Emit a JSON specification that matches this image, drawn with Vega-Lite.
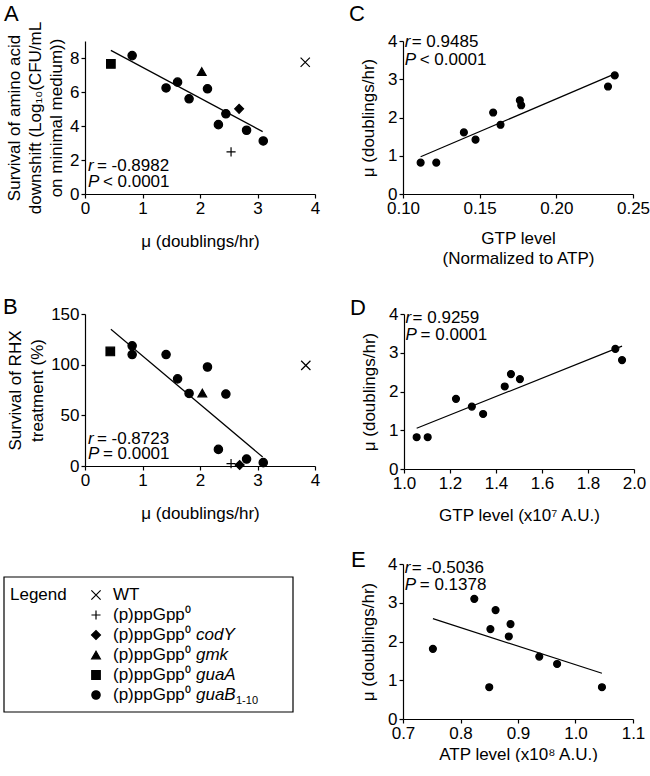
{
  "$schema": "https://vega.github.io/schema/vega-lite/v6.json",
  "padding": {"left": 3, "top": 2, "right": 0, "bottom": 0},
  "background": "white",
  "config": {
    "font": "Liberation Sans",
    "view": {"stroke": null},
    "axis": {"domainColor": "black", "tickColor": "black", "labelColor": "black", "titleColor": "black", "labelFont": "Liberation Sans", "titleFont": "Liberation Sans", "labelFontSize": 17, "titleFontSize": 17, "titleFontWeight": "normal", "grid": false, "tickSize": 4, "labelPadding": 2, "domainWidth": 1.2, "tickWidth": 1.2, "labelFlush": false, "labelOverlap": false, "tickCount": 10},
    "text": {"font": "Liberation Sans", "fontSize": 17, "color": "black"}
  },
  "datasets": {
    "A": [
      {"strain": "guaA", "mu": 0.45, "surv": 7.65},
      {"strain": "guaB", "mu": 0.82, "surv": 8.14},
      {"strain": "guaB", "mu": 1.41, "surv": 6.24},
      {"strain": "guaB", "mu": 1.61, "surv": 6.58},
      {"strain": "guaB", "mu": 1.81, "surv": 5.6},
      {"strain": "guaB", "mu": 2.13, "surv": 6.19},
      {"strain": "guaB", "mu": 2.45, "surv": 4.72},
      {"strain": "guaB", "mu": 2.32, "surv": 4.08},
      {"strain": "guaB", "mu": 2.81, "surv": 3.75},
      {"strain": "guaB", "mu": 3.1, "surv": 3.12},
      {"strain": "gmk", "mu": 2.03, "surv": 7.2},
      {"strain": "codY", "mu": 2.68, "surv": 5.01},
      {"strain": "ppGpp0", "mu": 2.54, "surv": 2.48},
      {"strain": "WT", "mu": 3.83, "surv": 7.75}
    ],
    "B": [
      {"strain": "guaA", "mu": 0.44, "surv": 113},
      {"strain": "guaB", "mu": 0.82, "surv": 118.6},
      {"strain": "guaB", "mu": 0.82, "surv": 110},
      {"strain": "guaB", "mu": 1.41, "surv": 110},
      {"strain": "guaB", "mu": 1.61, "surv": 86},
      {"strain": "guaB", "mu": 2.13, "surv": 97.7},
      {"strain": "guaB", "mu": 1.81, "surv": 71.6},
      {"strain": "guaB", "mu": 2.45, "surv": 71},
      {"strain": "guaB", "mu": 2.32, "surv": 16.4},
      {"strain": "guaB", "mu": 2.81, "surv": 6.9},
      {"strain": "guaB", "mu": 3.1, "surv": 3.3},
      {"strain": "gmk", "mu": 2.04, "surv": 72},
      {"strain": "ppGpp0", "mu": 2.54, "surv": 2.3},
      {"strain": "codY", "mu": 2.69, "surv": 1},
      {"strain": "WT", "mu": 3.84, "surv": 99.3}
    ],
    "C": [
      {"gtp": 0.1115, "mu": 0.82}, {"gtp": 0.1217, "mu": 0.82}, {"gtp": 0.1397, "mu": 1.61}, {"gtp": 0.1473, "mu": 1.42}, {"gtp": 0.1588, "mu": 2.13},
      {"gtp": 0.1636, "mu": 1.81}, {"gtp": 0.1762, "mu": 2.45}, {"gtp": 0.1771, "mu": 2.32}, {"gtp": 0.2337, "mu": 2.81}, {"gtp": 0.2381, "mu": 3.1}
    ],
    "D": [
      {"gtp": 1.055, "mu": 0.82}, {"gtp": 1.103, "mu": 0.82}, {"gtp": 1.226, "mu": 1.81}, {"gtp": 1.295, "mu": 1.61}, {"gtp": 1.344, "mu": 1.42},
      {"gtp": 1.438, "mu": 2.13}, {"gtp": 1.465, "mu": 2.45}, {"gtp": 1.504, "mu": 2.32}, {"gtp": 1.919, "mu": 3.1}, {"gtp": 1.948, "mu": 2.81}
    ],
    "E": [
      {"atp": 0.752, "mu": 1.81}, {"atp": 0.824, "mu": 3.1}, {"atp": 0.861, "mu": 2.81}, {"atp": 0.852, "mu": 2.32}, {"atp": 0.85, "mu": 0.82},
      {"atp": 0.887, "mu": 2.45}, {"atp": 0.884, "mu": 2.13}, {"atp": 0.937, "mu": 1.61}, {"atp": 0.968, "mu": 1.42}, {"atp": 1.046, "mu": 0.82}
    ],
    "lines": [
      {"panel": "A", "x": 0.45, "y": 8.45}, {"panel": "A", "x": 3.09, "y": 3.67},
      {"panel": "B", "x": 0.45, "y": 135}, {"panel": "B", "x": 3.09, "y": 8.9},
      {"panel": "C", "x": 0.1115, "y": 0.974}, {"panel": "C", "x": 0.237, "y": 3.12},
      {"panel": "D", "x": 1.055, "y": 1.05}, {"panel": "D", "x": 1.948, "y": 3.17},
      {"panel": "E", "x": 0.752, "y": 2.59}, {"panel": "E", "x": 1.046, "y": 1.18}
    ],
    "stats": [
      {"panel": "A", "r": "= -0.8982", "p": "< 0.0001"},
      {"panel": "B", "r": "= -0.8723", "p": "= 0.0001"},
      {"panel": "C", "r": "= 0.9485", "p": "< 0.0001"},
      {"panel": "D", "r": "= 0.9259", "p": "= 0.0001"},
      {"panel": "E", "r": "= -0.5036", "p": "= 0.1378"}
    ],
    "legend": [
      {"order": 0, "strain": "WT", "base": "WT", "gene": "", "sub": ""},
      {"order": 1, "strain": "ppGpp0", "base": "(p)ppGpp⁰", "gene": "", "sub": ""},
      {"order": 2, "strain": "codY", "base": "(p)ppGpp⁰", "gene": "codY", "sub": ""},
      {"order": 3, "strain": "gmk", "base": "(p)ppGpp⁰", "gene": "gmk", "sub": ""},
      {"order": 4, "strain": "guaA", "base": "(p)ppGpp⁰", "gene": "guaA", "sub": ""},
      {"order": 5, "strain": "guaB", "base": "(p)ppGpp⁰", "gene": "guaB", "sub": "1-10"}
    ]
  },
  "spacing": 30,
  "vconcat": [
    {
      "spacing": 29,
      "hconcat": [
        {
          "width": 230, "height": 153,
          "layer": [
            {"data": {"name": "A"},
             "mark": {"type": "point", "filled": true, "fill": "black", "stroke": "black", "strokeWidth": 1.2, "opacity": 1},
             "encoding": {
               "x": {"field": "mu", "type": "quantitative", "scale": {"domain": [0, 4], "nice": false, "zero": false}, "axis": {"values": [0, 1, 2, 3, 4], "tickCount": 10, "format": "d", "labelOverlap": false, "title": "μ (doublings/hr)", "titlePadding": 17}},
               "y": {"field": "surv", "type": "quantitative", "scale": {"domain": [0, 9], "nice": false}, "axis": {"values": [0, 2, 4, 6, 8], "tickCount": 10, "format": "d", "labelOverlap": false, "title": ["Survival of amino acid", "downshift (Log₁₀(CFU/mL", "on minimal medium))"], "titlePadding": 4, "titleLineHeight": 21}},
               "shape": {"field": "strain", "type": "nominal", "legend": null, "scale": {"domain": ["WT", "ppGpp0", "codY", "gmk", "guaA", "guaB"], "range": ["M-1,-1L1,1M-1,1L1,-1", "M-1,0L1,0M0,-1L0,1", "diamond", "triangle-up", "square", "circle"]}},
               "size": {"field": "strain", "type": "nominal", "legend": null, "scale": {"domain": ["WT", "ppGpp0", "codY", "gmk", "guaA", "guaB"], "range": [86, 70, 32, 40, 48, 48]}}
             }},
            {"data": {"name": "lines"}, "transform": [{"filter": "datum.panel === 'A'"}],
             "mark": {"type": "line", "color": "black", "strokeWidth": 1.2},
             "encoding": {"x": {"field": "x", "type": "quantitative"}, "y": {"field": "y", "type": "quantitative"}}},
            {"data": {"name": "stats"}, "transform": [{"filter": "datum.panel === 'A'"}],
             "mark": {"type": "text", "align": "left", "baseline": "alphabetic", "fontSize": 22},
             "encoding": {"x": {"datum": -1.409}, "y": {"datum": 10.18}, "text": {"field": "panel"}}},
            {"data": {"name": "stats"}, "transform": [{"filter": "datum.panel === 'A'"}],
             "mark": {"type": "text", "align": "left", "baseline": "middle", "fontStyle": "italic"},
             "encoding": {"x": {"datum": 0.05}, "y": {"datum": 1.64}, "text": {"value": "r"}}},
            {"data": {"name": "stats"}, "transform": [{"filter": "datum.panel === 'A'"}],
             "mark": {"type": "text", "align": "left", "baseline": "middle", "dx": 9},
             "encoding": {"x": {"datum": 0.05}, "y": {"datum": 1.64}, "text": {"field": "r"}}},
            {"data": {"name": "stats"}, "transform": [{"filter": "datum.panel === 'A'"}],
             "mark": {"type": "text", "align": "left", "baseline": "middle", "fontStyle": "italic"},
             "encoding": {"x": {"datum": 0.05}, "y": {"datum": 0.7}, "text": {"value": "P"}}},
            {"data": {"name": "stats"}, "transform": [{"filter": "datum.panel === 'A'"}],
             "mark": {"type": "text", "align": "left", "baseline": "middle", "dx": 15},
             "encoding": {"x": {"datum": 0.05}, "y": {"datum": 0.7}, "text": {"field": "p"}}}
          ]
        },
        {
          "width": 230, "height": 153,
          "layer": [
            {"data": {"name": "C"},
             "mark": {"type": "point", "filled": true, "fill": "black", "stroke": "black", "strokeWidth": 1.2, "opacity": 1, "shape": "circle", "size": 48},
             "encoding": {
               "x": {"field": "gtp", "type": "quantitative", "scale": {"domain": [0.1, 0.25], "nice": false, "zero": false}, "axis": {"values": [0.1, 0.15, 0.2, 0.25], "tickCount": 10, "format": ".2f", "labelOverlap": false, "title": ["GTP level", "(Normalized to ATP)"], "titlePadding": 14, "titleLineHeight": 20}},
               "y": {"field": "mu", "type": "quantitative", "scale": {"domain": [0, 4], "nice": false}, "axis": {"values": [0, 1, 2, 3, 4], "tickCount": 10, "format": "d", "labelOverlap": false, "title": "μ (doublings/hr)", "titlePadding": 10}}
             }},
            {"data": {"name": "lines"}, "transform": [{"filter": "datum.panel === 'C'"}],
             "mark": {"type": "line", "color": "black", "strokeWidth": 1.2},
             "encoding": {"x": {"field": "x", "type": "quantitative"}, "y": {"field": "y", "type": "quantitative"}}},
            {"data": {"name": "stats"}, "transform": [{"filter": "datum.panel === 'C'"}],
             "mark": {"type": "text", "align": "left", "baseline": "alphabetic", "fontSize": 22},
             "encoding": {"x": {"datum": 0.0648}, "y": {"datum": 4.523}, "text": {"field": "panel"}}},
            {"data": {"name": "stats"}, "transform": [{"filter": "datum.panel === 'C'"}],
             "mark": {"type": "text", "align": "left", "baseline": "middle", "fontStyle": "italic"},
             "encoding": {"x": {"datum": 0.1011}, "y": {"datum": 3.98}, "text": {"value": "r"}}},
            {"data": {"name": "stats"}, "transform": [{"filter": "datum.panel === 'C'"}],
             "mark": {"type": "text", "align": "left", "baseline": "middle", "dx": 7},
             "encoding": {"x": {"datum": 0.1011}, "y": {"datum": 3.98}, "text": {"field": "r"}}},
            {"data": {"name": "stats"}, "transform": [{"filter": "datum.panel === 'C'"}],
             "mark": {"type": "text", "align": "left", "baseline": "middle", "fontStyle": "italic"},
             "encoding": {"x": {"datum": 0.1011}, "y": {"datum": 3.5}, "text": {"value": "P"}}},
            {"data": {"name": "stats"}, "transform": [{"filter": "datum.panel === 'C'"}],
             "mark": {"type": "text", "align": "left", "baseline": "middle", "dx": 15},
             "encoding": {"x": {"datum": 0.1011}, "y": {"datum": 3.5}, "text": {"field": "p"}}}
          ]
        }
      ]
    },
    {
      "spacing": 25,
      "vconcat": [
        {
          "spacing": 29,
          "hconcat": [
            {
              "width": 230, "height": 152,
              "layer": [
                {"data": {"name": "B"},
                 "mark": {"type": "point", "filled": true, "fill": "black", "stroke": "black", "strokeWidth": 1.2, "opacity": 1},
                 "encoding": {
                   "x": {"field": "mu", "type": "quantitative", "scale": {"domain": [0, 4], "nice": false, "zero": false}, "axis": {"values": [0, 1, 2, 3, 4], "tickCount": 10, "format": "d", "labelOverlap": false, "title": "μ (doublings/hr)", "titlePadding": 17}},
                   "y": {"field": "surv", "type": "quantitative", "scale": {"domain": [0, 150], "nice": false}, "axis": {"values": [0, 50, 100, 150], "tickCount": 10, "format": "d", "labelOverlap": false, "title": ["Survival of RHX", "treatment (%)"], "titlePadding": 4, "titleLineHeight": 22}},
                   "shape": {"field": "strain", "type": "nominal", "legend": null, "scale": {"domain": ["WT", "ppGpp0", "codY", "gmk", "guaA", "guaB"], "range": ["M-1,-1L1,1M-1,1L1,-1", "M-1,0L1,0M0,-1L0,1", "diamond", "triangle-up", "square", "circle"]}},
                   "size": {"field": "strain", "type": "nominal", "legend": null, "scale": {"domain": ["WT", "ppGpp0", "codY", "gmk", "guaA", "guaB"], "range": [86, 70, 32, 40, 48, 48]}}
                 }},
                {"data": {"name": "lines"}, "transform": [{"filter": "datum.panel === 'B'"}],
                 "mark": {"type": "line", "color": "black", "strokeWidth": 1.2},
                 "encoding": {"x": {"field": "x", "type": "quantitative"}, "y": {"field": "y", "type": "quantitative"}}},
                {"data": {"name": "stats"}, "transform": [{"filter": "datum.panel === 'B'"}],
                 "mark": {"type": "text", "align": "left", "baseline": "alphabetic", "fontSize": 22},
                 "encoding": {"x": {"datum": -1.426}, "y": {"datum": 150}, "text": {"field": "panel"}}},
                {"data": {"name": "stats"}, "transform": [{"filter": "datum.panel === 'B'"}],
                 "mark": {"type": "text", "align": "left", "baseline": "middle", "fontStyle": "italic"},
                 "encoding": {"x": {"datum": 0.05}, "y": {"datum": 26.7}, "text": {"value": "r"}}},
                {"data": {"name": "stats"}, "transform": [{"filter": "datum.panel === 'B'"}],
                 "mark": {"type": "text", "align": "left", "baseline": "middle", "dx": 9},
                 "encoding": {"x": {"datum": 0.05}, "y": {"datum": 26.7}, "text": {"field": "r"}}},
                {"data": {"name": "stats"}, "transform": [{"filter": "datum.panel === 'B'"}],
                 "mark": {"type": "text", "align": "left", "baseline": "middle", "fontStyle": "italic"},
                 "encoding": {"x": {"datum": 0.05}, "y": {"datum": 12.1}, "text": {"value": "P"}}},
                {"data": {"name": "stats"}, "transform": [{"filter": "datum.panel === 'B'"}],
                 "mark": {"type": "text", "align": "left", "baseline": "middle", "dx": 15},
                 "encoding": {"x": {"datum": 0.05}, "y": {"datum": 12.1}, "text": {"field": "p"}}}
              ]
            },
            {
              "width": 230, "height": 155,
              "layer": [
                {"data": {"name": "D"},
                 "mark": {"type": "point", "filled": true, "fill": "black", "stroke": "black", "strokeWidth": 1.2, "opacity": 1, "shape": "circle", "size": 48},
                 "encoding": {
                   "x": {"field": "gtp", "type": "quantitative", "scale": {"domain": [1, 2], "nice": false, "zero": false}, "axis": {"values": [1, 1.2, 1.4, 1.6, 1.8, 2], "tickCount": 10, "format": ".1f", "labelOverlap": false, "title": "GTP level (x10⁷ A.U.)", "titlePadding": 16}},
                   "y": {"field": "mu", "type": "quantitative", "scale": {"domain": [0, 4], "nice": false}, "axis": {"values": [0, 1, 2, 3, 4], "tickCount": 10, "format": "d", "labelOverlap": false, "title": "μ (doublings/hr)", "titlePadding": 10}}
                 }},
                {"data": {"name": "lines"}, "transform": [{"filter": "datum.panel === 'D'"}],
                 "mark": {"type": "line", "color": "black", "strokeWidth": 1.2},
                 "encoding": {"x": {"field": "x", "type": "quantitative"}, "y": {"field": "y", "type": "quantitative"}}},
                {"data": {"name": "stats"}, "transform": [{"filter": "datum.panel === 'D'"}],
                 "mark": {"type": "text", "align": "left", "baseline": "alphabetic", "fontSize": 22},
                 "encoding": {"x": {"datum": 0.765}, "y": {"datum": 3.97}, "text": {"field": "panel"}}},
                {"data": {"name": "stats"}, "transform": [{"filter": "datum.panel === 'D'"}],
                 "mark": {"type": "text", "align": "left", "baseline": "middle", "fontStyle": "italic"},
                 "encoding": {"x": {"datum": 1.007}, "y": {"datum": 3.89}, "text": {"value": "r"}}},
                {"data": {"name": "stats"}, "transform": [{"filter": "datum.panel === 'D'"}],
                 "mark": {"type": "text", "align": "left", "baseline": "middle", "dx": 7},
                 "encoding": {"x": {"datum": 1.007}, "y": {"datum": 3.89}, "text": {"field": "r"}}},
                {"data": {"name": "stats"}, "transform": [{"filter": "datum.panel === 'D'"}],
                 "mark": {"type": "text", "align": "left", "baseline": "middle", "fontStyle": "italic"},
                 "encoding": {"x": {"datum": 1.007}, "y": {"datum": 3.45}, "text": {"value": "P"}}},
                {"data": {"name": "stats"}, "transform": [{"filter": "datum.panel === 'D'"}],
                 "mark": {"type": "text", "align": "left", "baseline": "middle", "dx": 15},
                 "encoding": {"x": {"datum": 1.007}, "y": {"datum": 3.45}, "text": {"field": "p"}}}
              ]
            }
          ]
        },
        {
          "spacing": 57,
          "hconcat": [
            {
              "width": 208, "height": 148,
              "data": {"name": "legend"},
              "layer": [
                {"data": {"values": [{"box": 1}]},
                 "mark": {"type": "rect", "filled": false, "stroke": "black", "strokeWidth": 1.2, "fill": null},
                 "encoding": {
                   "x": {"datum": 0, "type": "quantitative", "scale": {"domain": [81, 289], "nice": false, "zero": false}, "axis": null},
                   "x2": {"datum": 289},
                   "y": {"datum": -0.9, "type": "quantitative", "scale": {"domain": [-1.55, 5.85], "reverse": true, "nice": false, "zero": false}, "axis": null},
                   "y2": {"datum": 5.85}
                 }},
                {"mark": {"type": "point", "filled": true, "fill": "black", "stroke": "black", "strokeWidth": 1.2, "opacity": 1},
                 "encoding": {
                   "x": {"datum": 92, "type": "quantitative"},
                   "y": {"field": "order", "type": "quantitative"},
                   "shape": {"field": "strain", "type": "nominal", "legend": null, "scale": {"domain": ["WT", "ppGpp0", "codY", "gmk", "guaA", "guaB"], "range": ["M-1,-1L1,1M-1,1L1,-1", "M-1,0L1,0M0,-1L0,1", "diamond", "triangle-up", "square", "circle"]}},
                   "size": {"field": "strain", "type": "nominal", "legend": null, "scale": {"domain": ["WT", "ppGpp0", "codY", "gmk", "guaA", "guaB"], "range": [50, 45, 25, 30, 30, 34]}}
                 }},
                {"mark": {"type": "text", "align": "left", "baseline": "middle"},
                 "encoding": {"x": {"datum": 109, "type": "quantitative"}, "y": {"field": "order", "type": "quantitative"}, "text": {"field": "base"}}},
                {"mark": {"type": "text", "align": "left", "baseline": "middle", "fontStyle": "italic"},
                 "encoding": {"x": {"datum": 192, "type": "quantitative"}, "y": {"field": "order", "type": "quantitative"}, "text": {"field": "gene"}}},
                {"transform": [{"filter": "datum.sub !== ''"}],
                 "mark": {"type": "text", "align": "left", "baseline": "middle", "fontSize": 11, "dy": 6},
                 "encoding": {"x": {"datum": 232, "type": "quantitative"}, "y": {"field": "order", "type": "quantitative"}, "text": {"field": "sub"}}},
                {"transform": [{"filter": "datum.order === 0"}],
                 "mark": {"type": "text", "align": "left", "baseline": "middle"},
                 "encoding": {"x": {"datum": 6, "type": "quantitative"}, "y": {"field": "order", "type": "quantitative"}, "text": {"value": "Legend"}}}
              ]
            },
            {
              "width": 230, "height": 155,
              "layer": [
                {"data": {"name": "E"},
                 "mark": {"type": "point", "filled": true, "fill": "black", "stroke": "black", "strokeWidth": 1.2, "opacity": 1, "shape": "circle", "size": 48},
                 "encoding": {
                   "x": {"field": "atp", "type": "quantitative", "scale": {"domain": [0.7, 1.1], "nice": false, "zero": false}, "axis": {"values": [0.7, 0.8, 0.9, 1.0, 1.1], "tickCount": 10, "format": ".1f", "labelOverlap": false, "title": "ATP level (x10⁸ A.U.)", "titlePadding": 5}},
                   "y": {"field": "mu", "type": "quantitative", "scale": {"domain": [0, 4], "nice": false}, "axis": {"values": [0, 1, 2, 3, 4], "tickCount": 10, "format": "d", "labelOverlap": false, "title": "μ (doublings/hr)", "titlePadding": 10}}
                 }},
                {"data": {"name": "lines"}, "transform": [{"filter": "datum.panel === 'E'"}],
                 "mark": {"type": "line", "color": "black", "strokeWidth": 1.2},
                 "encoding": {"x": {"field": "x", "type": "quantitative"}, "y": {"field": "y", "type": "quantitative"}}},
                {"data": {"name": "stats"}, "transform": [{"filter": "datum.panel === 'E'"}],
                 "mark": {"type": "text", "align": "left", "baseline": "alphabetic", "fontSize": 22},
                 "encoding": {"x": {"datum": 0.6096}, "y": {"datum": 3.923}, "text": {"field": "panel"}}},
                {"data": {"name": "stats"}, "transform": [{"filter": "datum.panel === 'E'"}],
                 "mark": {"type": "text", "align": "left", "baseline": "middle", "fontStyle": "italic"},
                 "encoding": {"x": {"datum": 0.703}, "y": {"datum": 3.89}, "text": {"value": "r"}}},
                {"data": {"name": "stats"}, "transform": [{"filter": "datum.panel === 'E'"}],
                 "mark": {"type": "text", "align": "left", "baseline": "middle", "dx": 7},
                 "encoding": {"x": {"datum": 0.703}, "y": {"datum": 3.89}, "text": {"field": "r"}}},
                {"data": {"name": "stats"}, "transform": [{"filter": "datum.panel === 'E'"}],
                 "mark": {"type": "text", "align": "left", "baseline": "middle", "fontStyle": "italic"},
                 "encoding": {"x": {"datum": 0.703}, "y": {"datum": 3.46}, "text": {"value": "P"}}},
                {"data": {"name": "stats"}, "transform": [{"filter": "datum.panel === 'E'"}],
                 "mark": {"type": "text", "align": "left", "baseline": "middle", "dx": 15},
                 "encoding": {"x": {"datum": 0.703}, "y": {"datum": 3.46}, "text": {"field": "p"}}}
              ]
            }
          ]
        }
      ]
    }
  ]
}
